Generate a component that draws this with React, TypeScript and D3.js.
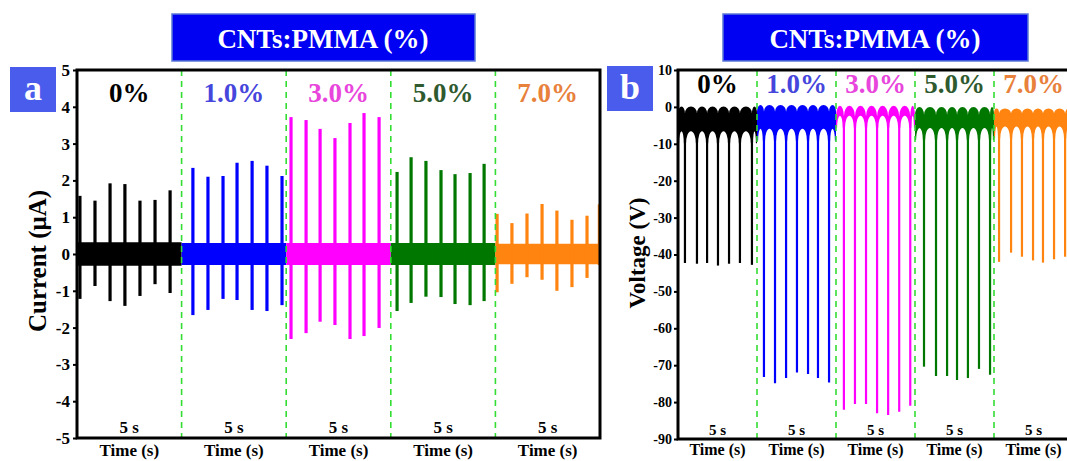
import React, { useEffect, useRef } from 'react';
import * as d3 from 'd3';

const concentrations = ['0%', '1.0%', '3.0%', '5.0%', '7.0%'];
const traceColors = ['#000000', '#0000ff', '#ff00ff', '#007800', '#ff8410'];
const labelColors = ['#000000', '#4646dc', '#e845dc', '#2f5a2f', '#e8813c'];
const segmentSeconds = 5;

// panel a: current (uA)
const currentTicks = [5, 4, 3, 2, 1, 0, -1, -2, -3, -4, -5];
const currentSpikeTimes = [
  [0.14, 0.86, 1.58, 2.29, 3.01, 3.73, 4.45],
  [0.54, 1.26, 1.98, 2.65, 3.37, 4.08, 4.8],
  [0.23, 0.95, 1.62, 2.33, 3.05, 3.72, 4.44],
  [0.3, 0.97, 1.68, 2.4, 3.07, 3.79, 4.46],
  [0.08, 0.79, 1.51, 2.23, 2.94, 3.66, 4.38, 4.97],
];
const currentPeaksUp = [
  [1.58, 1.45, 1.92, 1.9, 1.45, 1.47, 1.73],
  [2.34, 2.1, 2.12, 2.48, 2.53, 2.4, 2.12],
  [3.72, 3.64, 3.4, 3.15, 3.56, 3.83, 3.72],
  [2.23, 2.63, 2.53, 2.28, 2.17, 2.2, 2.45],
  [1.09, 0.84, 1.1, 1.36, 1.18, 0.93, 1.04, 1.35],
];
const currentPeaksDown = [
  [-1.22, -0.87, -1.28, -1.41, -1.14, -0.82, -1.06],
  [-1.66, -1.52, -1.22, -1.25, -1.52, -1.55, -1.39],
  [-2.31, -2.15, -1.84, -1.93, -2.31, -2.23, -2.01],
  [-1.55, -1.33, -1.16, -1.17, -1.36, -1.39, -1.28],
  [-1.04, -0.81, -0.63, -0.7, -1.0, -0.9, -0.65, -0.3],
];
const currentBand = [0.32, 0.3, 0.3, 0.3, 0.28];

// panel b: voltage (V)
const voltageTicks = [10, 0, -10, -20, -30, -40, -50, -60, -70, -80, -90];
const voltageSpikeTimes = [
  [0.44, 1.2, 1.84, 2.53, 3.23, 3.92, 4.68],
  [0.44, 1.14, 1.84, 2.53, 3.23, 3.86, 4.56],
  [0.5, 1.2, 1.9, 2.6, 3.3, 4.0, 4.7],
  [0.57, 1.33, 2.03, 2.66, 3.35, 4.05, 4.75],
  [0.32, 1.08, 1.77, 2.47, 3.1, 3.8, 4.5],
];
const voltagePeaks = [
  [-42.3, -42.5, -42.3, -43, -42.5, -42.3, -42.8],
  [-73.2, -74.9, -73.5, -72, -72.4, -73.5, -74.7],
  [-82.1, -80.5, -80.5, -83, -83.5, -82.6, -81],
  [-70.4, -72.9, -72.9, -74, -73.5, -71, -72.6],
  [-42, -39.5, -40.6, -41.6, -42.2, -41.3, -40.6],
];
// baseline ripple levels between the spikes
const voltageRippleTop = [0.1, 0.5, 0.3, 0, -0.4];
const voltageRippleCusp = [-1.8, -1.3, -2.6, -2.2, -1.8];
const voltageWindowTop = [-6.6, -5.9, -2.4, -5.7, -5.3];

const SERIF = "'Liberation Serif', 'Times New Roman', serif";

export default function App() {
  const svgRef = useRef<SVGSVGElement>(null);

  useEffect(() => {
    if (!svgRef.current) return;
    const svg = d3.select(svgRef.current);
    svg.selectAll('*').remove();
    svg.attr('font-family', SERIF).attr('font-weight', 'bold');

    const defs = svg.append('defs');

    const header = (cx: number, x0: number, x1: number) => {
      svg.append('rect')
        .attr('x', x0).attr('y', 14).attr('width', x1 - x0).attr('height', 47)
        .attr('fill', '#0000f2').attr('stroke', '#5b78d6').attr('stroke-width', 1.5);
      svg.append('text')
        .attr('x', cx).attr('y', 48).attr('text-anchor', 'middle')
        .attr('fill', '#ffffff').attr('font-size', 27)
        .text('CNTs:PMMA (%)');
    };
    const panelTag = (x: number, y: number, letter: string) => {
      svg.append('rect')
        .attr('x', x).attr('y', y).attr('width', 46).attr('height', 45)
        .attr('fill', '#4a5cec');
      svg.append('text')
        .attr('x', x + 23).attr('y', y + 33).attr('text-anchor', 'middle')
        .attr('fill', '#ffffff').attr('font-size', 36)
        .text(letter);
    };

    // ---------------- panel a ----------------
    const xA = d3.scaleLinear().domain([0, 25]).range([77, 600]);
    const yA = d3.scaleLinear().domain([-5, 5]).range([438, 70]);

    header(323, 172, 475);
    panelTag(10, 67, 'a');

    defs.append('clipPath').attr('id', 'clip-a')
      .append('rect').attr('x', 77).attr('y', 70).attr('width', 523).attr('height', 368);
    const gA = svg.append('g').attr('clip-path', 'url(#clip-a)');

    const spikeA = d3.line<[number, number]>()
      .x(d => xA(d[0]))
      .y(d => yA(d[1]));

    concentrations.forEach((_, i) => {
      const t0 = i * segmentSeconds;
      const t1 = t0 + segmentSeconds;
      const b = currentBand[i];
      const area = d3.area<number>()
        .x(t => xA(t))
        .y0(yA(-b))
        .y1(yA(b));
      gA.append('path')
        .datum([t0, t1])
        .attr('fill', traceColors[i])
        .attr('d', area);

      currentSpikeTimes[i].forEach((t, k) => {
        gA.append('path')
          .datum([[t0 + t, currentPeaksDown[i][k]], [t0 + t, currentPeaksUp[i][k]]] as [number, number][])
          .attr('fill', 'none')
          .attr('stroke', traceColors[i])
          .attr('stroke-width', 3.2)
          .attr('d', spikeA);
      });
    });

    [1, 2, 3, 4].forEach(i => {
      svg.append('line')
        .attr('x1', xA(i * segmentSeconds)).attr('x2', xA(i * segmentSeconds))
        .attr('y1', yA(5)).attr('y2', yA(-5))
        .attr('stroke', '#33dd33').attr('stroke-width', 1.6)
        .attr('stroke-dasharray', '6 5');
    });

    svg.append('rect')
      .attr('x', 77).attr('y', 70).attr('width', 523).attr('height', 368)
      .attr('fill', 'none').attr('stroke', '#000').attr('stroke-width', 3);

    svg.append('g')
      .attr('transform', 'translate(77,0)')
      .call(d3.axisLeft(yA).tickValues(currentTicks).tickSize(4).tickPadding(3).tickFormat(d => `${d}`))
      .call(g => g.select('.domain').remove())
      .call(g => g.selectAll('.tick line').attr('stroke', '#000').attr('stroke-width', 2))
      .call(g => g.selectAll('.tick text')
        .attr('fill', '#000').attr('font-size', 17).attr('font-family', SERIF).attr('font-weight', 'bold'));

    svg.append('text')
      .attr('transform', 'translate(46,261) rotate(-90)')
      .attr('text-anchor', 'middle').attr('font-size', 25)
      .text('Current (μA)');

    concentrations.forEach((c, i) => {
      const cx = xA(i * segmentSeconds + segmentSeconds / 2);
      svg.append('text')
        .attr('x', cx).attr('y', 102).attr('text-anchor', 'middle')
        .attr('font-size', 27).attr('fill', labelColors[i])
        .text(c);
      svg.append('text')
        .attr('x', cx).attr('y', 433).attr('text-anchor', 'middle')
        .attr('font-size', 17).text('5 s');
      svg.append('text')
        .attr('x', cx).attr('y', 456).attr('text-anchor', 'middle')
        .attr('font-size', 17).text('Time (s)');
    });

    // ---------------- panel b ----------------
    const xB = d3.scaleLinear().domain([0, 25]).range([678, 1073]);
    const yB = d3.scaleLinear().domain([-90, 10]).range([439, 70]);

    header(875, 723, 1028);
    panelTag(607, 66, 'b');

    defs.append('clipPath').attr('id', 'clip-b')
      .append('rect').attr('x', 678).attr('y', 70).attr('width', 395).attr('height', 369);
    const gB = svg.append('g').attr('clip-path', 'url(#clip-b)');

    const spikeB = d3.line<[number, number]>()
      .x(d => xB(d[0]))
      .y(d => yB(d[1]));

    concentrations.forEach((_, i) => {
      const t0 = i * segmentSeconds;
      const t1 = t0 + segmentSeconds;
      const knots = [t0, ...voltageSpikeTimes[i].map(t => t0 + t), t1].map(t => xB(t));
      const yTop = yB(voltageRippleTop[i]);
      const yCusp = yB(voltageRippleCusp[i]);
      const yWin = yB(voltageWindowTop[i]);
      const yLeg = yWin + 12;
      const legHalf = 1.1;

      // scalloped ripple band: arches on top, rounded windows underneath
      const p = d3.path();
      p.moveTo(knots[0], yCusp);
      let top = `M${knots[0]},${yCusp}`;
      for (let j = 0; j < knots.length - 1; j++) {
        const a = knots[j], b = knots[j + 1];
        top += ` A${(b - a) / 2},${yCusp - yTop} 0 0 1 ${b},${yCusp}`;
      }
      let bottom = ` L${knots[knots.length - 1]},${yLeg}`;
      for (let j = knots.length - 2; j >= 0; j--) {
        const a = knots[j], b = knots[j + 1];
        const rx = Math.max(0.5, (b - a) / 2 - legHalf);
        bottom += ` L${b - legHalf},${yLeg} A${rx},${yLeg - yWin} 0 0 0 ${a + legHalf},${yLeg} L${a},${yLeg}`;
      }
      gB.append('path')
        .attr('fill', traceColors[i])
        .attr('d', top + bottom + ' Z');

      voltageSpikeTimes[i].forEach((t, k) => {
        gB.append('path')
          .datum([[t0 + t, voltageRippleCusp[i]], [t0 + t, voltagePeaks[i][k]]] as [number, number][])
          .attr('fill', 'none')
          .attr('stroke', traceColors[i])
          .attr('stroke-width', 2.2)
          .attr('d', spikeB);
      });
    });

    [1, 2, 3, 4].forEach(i => {
      svg.append('line')
        .attr('x1', xB(i * segmentSeconds)).attr('x2', xB(i * segmentSeconds))
        .attr('y1', yB(10)).attr('y2', yB(-90))
        .attr('stroke', '#33dd33').attr('stroke-width', 1.6)
        .attr('stroke-dasharray', '6 5');
    });

    svg.append('rect')
      .attr('x', 678).attr('y', 70).attr('width', 395).attr('height', 369)
      .attr('fill', 'none').attr('stroke', '#000').attr('stroke-width', 3);

    svg.append('g')
      .attr('transform', 'translate(678,0)')
      .call(d3.axisLeft(yB).tickValues(voltageTicks).tickSize(4).tickPadding(2).tickFormat(d => `${d}`))
      .call(g => g.select('.domain').remove())
      .call(g => g.selectAll('.tick line').attr('stroke', '#000').attr('stroke-width', 2))
      .call(g => g.selectAll('.tick text')
        .attr('fill', '#000').attr('font-size', 14).attr('font-family', SERIF).attr('font-weight', 'bold'));

    svg.append('text')
      .attr('transform', 'translate(645,253) rotate(-90)')
      .attr('text-anchor', 'middle').attr('font-size', 23)
      .text('Voltage (V)');

    concentrations.forEach((c, i) => {
      const cx = xB(i * segmentSeconds + segmentSeconds / 2);
      svg.append('text')
        .attr('x', cx).attr('y', 93).attr('text-anchor', 'middle')
        .attr('font-size', 27).attr('fill', labelColors[i])
        .text(c);
      svg.append('text')
        .attr('x', cx).attr('y', 435).attr('text-anchor', 'middle')
        .attr('font-size', 15).text('5 s');
      svg.append('text')
        .attr('x', cx).attr('y', 455).attr('text-anchor', 'middle')
        .attr('font-size', 16).text('Time (s)');
    });
  }, []);

  return (
    <svg
      ref={svgRef}
      width={1067}
      height={461}
      style={{ position: 'absolute', left: 0, top: 0, background: '#fff' }}
    />
  );
}
